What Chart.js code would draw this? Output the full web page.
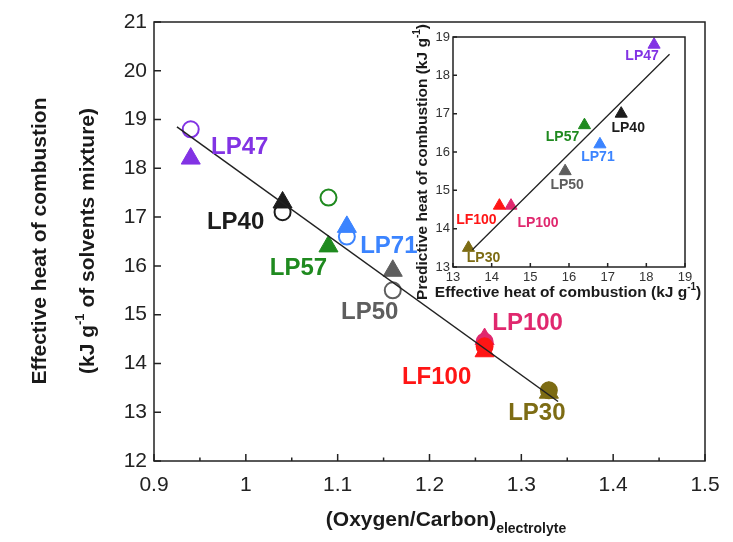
<!DOCTYPE html>
<html>
<head>
<meta charset="utf-8">
<script src="https://cdn.jsdelivr.net/npm/chart.js@4.4.1/dist/chart.umd.min.js"></script>
<style>
body { margin: 0; background: #fff; }
#wrap { position: relative; width: 733px; height: 542px; }
#wrap canvas { position: absolute; left: 0; top: 0; }
</style>
</head>
<body>
<div id="wrap">
  <canvas id="grafico" width="733" height="542"></canvas>
  <canvas id="inserto" width="733" height="542"></canvas>
</div>
<script>
// datos
const muestras = ['LP47', 'LP40', 'LP57', 'LP71', 'LP50', 'LP100', 'LF100', 'LP30'];
const colores = ['#8233e4', '#1c1c1c', '#1f8a1f', '#3b84ff', '#5e5e5e', '#e0286e', '#ff1515', '#7d6c14'];
const oxigenoCarbono = [0.94, 1.04, 1.09, 1.11, 1.16, 1.26, 1.26, 1.33];
const calorMedido = [18.2, 17.3, 16.4, 16.8, 15.9, 14.5, 14.25, 13.4];     // triangulos
const calorCalculado = [18.8, 17.1, 17.4, 16.6, 15.5, 14.45, 14.35, 13.45]; // circulos
const circuloRelleno = [false, false, false, false, false, true, true, true];
const ajusteX = [0.925, 1.34];
const ajusteY = [18.85, 13.22];

// inserto: efectivo vs predictivo
const insertoEfectivo = [18.2, 17.35, 16.4, 16.8, 15.9, 14.5, 14.2, 13.4];
const insertoPredictivo = [18.8, 17.0, 16.7, 16.2, 15.5, 14.6, 14.6, 13.5];
const insertoAjusteX = [13.5, 18.6];
const insertoAjusteY = [13.45, 18.55];

const ticksX = [0.9, 1.0, 1.1, 1.2, 1.3, 1.4, 1.5];
const ticksY = [12, 13, 14, 15, 16, 17, 18, 19, 20, 21];
const ticksInserto = [13, 14, 15, 16, 17, 18, 19];

const FUENTE = '"Liberation Sans", Arial, sans-serif';

function pares(xs, ys) {
    return xs.map((x, i) => ({ x: x, y: ys[i] }));
}

// texto con super/subindice
function textoRico(ctx, partes, x, y) {
    let total = 0;
    partes.forEach(p => { ctx.font = p.font; total += ctx.measureText(p.t).width; });
    let cx = x - total / 2;
    ctx.textAlign = 'left';
    ctx.textBaseline = 'middle';
    partes.forEach(p => {
        ctx.font = p.font;
        ctx.fillText(p.t, cx, y + (p.dy || 0));
        cx += ctx.measureText(p.t).width;
    });
}

const marco = {
    id: 'marco',
    afterDraw(chart, args, opts) {
        const { ctx, chartArea: a, scales } = chart;
        ctx.save();
        ctx.strokeStyle = '#222';
        ctx.lineWidth = opts.ancho;
        ctx.strokeRect(a.left, a.top, a.right - a.left, a.bottom - a.top);
        ctx.beginPath();
        opts.mayoresX.forEach(v => {
            const px = scales.x.getPixelForValue(v);
            ctx.moveTo(px, a.bottom); ctx.lineTo(px, a.bottom - opts.largo);
        });
        opts.menoresX.forEach(v => {
            const px = scales.x.getPixelForValue(v);
            ctx.moveTo(px, a.bottom); ctx.lineTo(px, a.bottom - opts.largo / 2);
        });
        opts.mayoresY.forEach(v => {
            const py = scales.y.getPixelForValue(v);
            ctx.moveTo(a.left, py); ctx.lineTo(a.left + opts.largo, py);
        });
        ctx.stroke();

        // titulos de ejes
        ctx.fillStyle = '#1a1a1a';
        opts.tituloY.forEach(t => {
            ctx.save();
            ctx.translate(t.x, t.y);
            ctx.rotate(-Math.PI / 2);
            textoRico(ctx, t.partes, 0, 0);
            ctx.restore();
        });
        textoRico(ctx, opts.tituloX.partes, opts.tituloX.x, opts.tituloX.y);
        ctx.restore();
    }
};

const etiquetas = {
    id: 'etiquetas',
    afterDatasetsDraw(chart, args, opts) {
        const { ctx, scales } = chart;
        ctx.save();
        ctx.font = opts.font;
        ctx.textAlign = 'center';
        ctx.textBaseline = 'middle';
        muestras.forEach((m, i) => {
            const px = scales.x.getPixelForValue(opts.xs[i]) + opts.desplaza[i][0];
            const py = scales.y.getPixelForValue(opts.ys[i]) + opts.desplaza[i][1];
            ctx.fillStyle = colores[i];
            ctx.fillText(m, px, py);
        });
        ctx.restore();
    }
};

Chart.register(marco, etiquetas);

// grafico principal
const grafico = document.getElementById('grafico').getContext('2d');
new Chart(grafico, {
    type: 'scatter',
    data: {
        datasets: [{
            data: pares(ajusteX, ajusteY),
            showLine: true,
            borderColor: '#222',
            borderWidth: 1.5,
            pointRadius: 0
        }, {
            data: pares(oxigenoCarbono, calorCalculado),
            pointStyle: 'circle',
            pointRadius: 8,
            pointBorderWidth: 2,
            borderColor: colores,
            backgroundColor: colores.map((c, i) => circuloRelleno[i] ? c : 'rgba(0,0,0,0)')
        }, {
            data: pares(oxigenoCarbono, calorMedido),
            pointStyle: 'triangle',
            pointRadius: 11,
            pointBorderWidth: 1,
            borderColor: colores,
            backgroundColor: colores
        }]
    },
    options: {
        responsive: false,
        animation: false,
        events: [],
        layout: { padding: { left: 0, top: 22, right: 28, bottom: 0 } },
        plugins: {
            legend: { display: false },
            tooltip: { enabled: false },
            marco: {
                ancho: 1.5,
                largo: 7,
                mayoresX: ticksX,
                menoresX: ticksX.slice(0, -1).map(v => v + 0.05),
                mayoresY: ticksY,
                tituloY: [{
                    x: 40, y: 241,
                    partes: [{ t: 'Effective heat of combustion', font: 'bold 21px ' + FUENTE }]
                }, {
                    x: 88, y: 241,
                    partes: [
                        { t: '(kJ g', font: 'bold 21px ' + FUENTE },
                        { t: '-1', font: 'bold 13px ' + FUENTE, dy: -8 },
                        { t: ' of solvents mixture)', font: 'bold 21px ' + FUENTE }
                    ]
                }],
                tituloX: {
                    x: 446, y: 520,
                    partes: [
                        { t: '(Oxygen/Carbon)', font: 'bold 21px ' + FUENTE },
                        { t: 'electrolyte', font: 'bold 14px ' + FUENTE, dy: 9 }
                    ]
                }
            },
            etiquetas: {
                font: 'bold 24px ' + FUENTE,
                xs: oxigenoCarbono,
                ys: calorMedido,
                desplaza: [[49, -11], [-47, 20], [-30, 22], [42, 20], [-23, 42], [43, -16], [-48, 26], [-12, 21]]
            }
        },
        scales: {
            x: {
                type: 'linear',
                min: 0.9, max: 1.5,
                afterFit: s => { s.height = 81; },
                afterBuildTicks: s => { s.ticks = ticksX.map(v => ({ value: v })); },
                grid: { display: false, drawTicks: false },
                border: { display: false },
                ticks: {
                    autoSkip: false, maxRotation: 0,
                    padding: 12,
                    color: '#222',
                    font: { family: FUENTE, size: 21 },
                    callback: v => String(Number(v.toFixed(1)))
                }
            },
            y: {
                type: 'linear',
                min: 12, max: 21,
                afterFit: s => { s.width = 154; },
                afterBuildTicks: s => { s.ticks = ticksY.map(v => ({ value: v })); },
                grid: { display: false, drawTicks: false },
                border: { display: false },
                ticks: {
                    padding: 7,
                    color: '#222',
                    font: { family: FUENTE, size: 21 }
                }
            }
        }
    }
});

// inserto
const inserto = document.getElementById('inserto').getContext('2d');
new Chart(inserto, {
    type: 'scatter',
    data: {
        datasets: [{
            data: pares(insertoAjusteX, insertoAjusteY),
            showLine: true,
            borderColor: '#222',
            borderWidth: 1.3,
            pointRadius: 0
        }, {
            data: pares(insertoEfectivo, insertoPredictivo),
            pointStyle: 'triangle',
            pointRadius: 7,
            pointBorderWidth: 1,
            borderColor: colores,
            backgroundColor: colores
        }]
    },
    options: {
        responsive: false,
        animation: false,
        events: [],
        layout: { padding: { left: 423, top: 37, right: 48, bottom: 245 } },
        plugins: {
            legend: { display: false },
            tooltip: { enabled: false },
            marco: {
                ancho: 1.5,
                largo: 4,
                mayoresX: ticksInserto,
                menoresX: [],
                mayoresY: ticksInserto,
                tituloY: [{
                    x: 423, y: 162,
                    partes: [
                        { t: 'Predictive heat of combustion (kJ g', font: 'bold 15.5px ' + FUENTE },
                        { t: '-1', font: 'bold 10px ' + FUENTE, dy: -6 },
                        { t: ')', font: 'bold 15.5px ' + FUENTE }
                    ]
                }],
                tituloX: {
                    x: 568, y: 293,
                    partes: [
                        { t: 'Effective heat of combustion (kJ g', font: 'bold 15.5px ' + FUENTE },
                        { t: '-1', font: 'bold 10px ' + FUENTE, dy: -6 },
                        { t: ')', font: 'bold 15.5px ' + FUENTE }
                    ]
                }
            },
            etiquetas: {
                font: 'bold 14px ' + FUENTE,
                xs: insertoEfectivo,
                ys: insertoPredictivo,
                desplaza: [[-12, 11], [7, 14], [-22, 12], [-2, 13], [2, 14], [27, 17], [-23, 14], [15, 10]]
            }
        },
        scales: {
            x: {
                type: 'linear',
                min: 13, max: 19,
                afterFit: s => { s.height = 30; },
                afterBuildTicks: s => { s.ticks = ticksInserto.map(v => ({ value: v })); },
                grid: { display: false, drawTicks: false },
                border: { display: false },
                ticks: {
                    autoSkip: false, maxRotation: 0,
                    padding: 3,
                    color: '#333',
                    font: { family: FUENTE, size: 13 }
                }
            },
            y: {
                type: 'linear',
                min: 13, max: 19,
                afterFit: s => { s.width = 30; },
                afterBuildTicks: s => { s.ticks = ticksInserto.map(v => ({ value: v })); },
                grid: { display: false, drawTicks: false },
                border: { display: false },
                ticks: {
                    padding: 3,
                    color: '#333',
                    font: { family: FUENTE, size: 13 }
                }
            }
        }
    }
});
</script>
</body>
</html>
